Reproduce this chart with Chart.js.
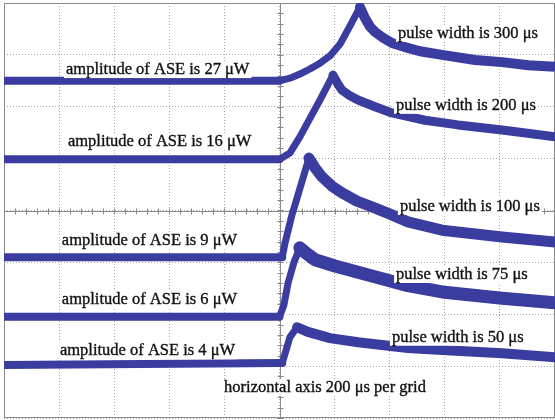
<!DOCTYPE html>
<html>
<head>
<meta charset="utf-8">
<script src="https://cdn.jsdelivr.net/npm/chart.js@4.4.1/dist/chart.umd.min.js"></script>
<style>
html, body { margin: 0; padding: 0; background: #fff; }
#wrap { width: 555px; height: 420px; }
</style>
</head>
<body>
<div id="wrap"><canvas id="scope"></canvas></div>
<script>
// horizontal: time in us (200 us per grid), vertical: screen divisions
var xMin = -1000, xMax = 1000, xStep = 200;
var yMin = -4, yMax = 4, yStep = 1;

// pulse width 300 us, ASE 27 uW
var t300 = [-1000, 0, 38, 74, 111, 147, 183, 220, 256, 292, 310, 329, 347, 376, 408, 455, 510, 590, 710, 808, 903, 1000];
var v300 = [2.50, 2.50, 2.55, 2.63, 2.73, 2.84, 2.98, 3.21, 3.56, 3.92, 3.71, 3.54, 3.44, 3.33, 3.23, 3.15, 3.07, 3.00, 2.90, 2.86, 2.80, 2.77];

// pulse width 200 us, ASE 16 uW
var t200 = [-1000, 0, 38, 74, 111, 147, 194, 212, 227, 256, 285, 347, 408, 528, 648, 808, 1000];
var v200 = [0.99, 0.99, 1.11, 1.42, 1.78, 2.13, 2.61, 2.44, 2.32, 2.21, 2.13, 2.00, 1.88, 1.74, 1.65, 1.55, 1.42];

// pulse width 100 us, ASE 9 uW
var t100 = [-1000, 10, 20, 45, 67, 107, 129, 154, 190, 227, 281, 336, 401, 466, 590, 808, 1000];
var v100 = [-0.90, -0.90, -0.63, -0.09, 0.30, 1.01, 0.82, 0.65, 0.47, 0.34, 0.18, 0.07, -0.07, -0.22, -0.38, -0.51, -0.61];

// pulse width 75 us, ASE 6 uW
var t75 = [-1000, 0, 16, 31, 53, 74, 96, 129, 201, 285, 383, 466, 590, 808, 1000];
var v75 = [-2.05, -2.05, -1.82, -1.40, -0.99, -0.72, -0.82, -0.95, -1.07, -1.19, -1.33, -1.45, -1.57, -1.69, -1.78];

// pulse width 50 us, ASE 4 uW
var t50 = [-1000, 10, 38, 64, 103, 183, 285, 466, 590, 808, 1000];
var v50 = [-2.98, -2.94, -2.44, -2.25, -2.34, -2.46, -2.54, -2.65, -2.69, -2.75, -2.83];

var traceColor = '#3a3d9f';
var decayWidths = [10, 9, 11, 13, 10];

var notes = [
    { text: 'amplitude of ASE is 27 \u03bcW', x: -775, y: 2.63 },
    { text: 'amplitude of ASE is 16 \u03bcW', x: -768, y: 1.24 },
    { text: 'amplitude of ASE is 9 \u03bcW', x: -790, y: -0.67 },
    { text: 'amplitude of ASE is 6 \u03bcW', x: -790, y: -1.80 },
    { text: 'amplitude of ASE is 4 \u03bcW', x: -797, y: -2.79 },
    { text: 'pulse width is 300 \u03bcs', x: 430, y: 3.33 },
    { text: 'pulse width is 200 \u03bcs', x: 423, y: 1.94 },
    { text: 'pulse width is 100 \u03bcs', x: 437, y: -0.01 },
    { text: 'pulse width is 75 \u03bcs', x: 423, y: -1.32 },
    { text: 'pulse width is 50 \u03bcs', x: 408, y: -2.53 },
    { text: 'horizontal axis 200 \u03bcs per grid', x: -201, y: -3.50 }
];

function makeTrace(ts, vs, decayWidth) {
    var pts = [];
    var peak = ts[0], best = -99;
    for (var i = 0; i < ts.length; i++) {
        pts.push({ x: ts[i], y: vs[i] });
        if (vs[i] > best) { best = vs[i]; peak = ts[i]; }
    }
    return {
        data: pts,
        borderColor: traceColor,
        borderWidth: 8,
        borderCapStyle: 'round',
        borderJoinStyle: 'round',
        pointRadius: 0,
        tension: 0,
        fill: false,
        segment: {
            borderWidth: function (ctx) {
                if (ctx.p0.parsed.x >= peak) return decayWidth;
                if (ctx.p0.parsed.x >= 0) return 7;
                return 8;
            }
        }
    };
}

var scopeFrame = {
    id: 'scopeFrame',
    beforeDatasetsDraw: function (chart) {
        var c = chart.ctx, a = chart.chartArea;
        var sx = chart.scales.x, sy = chart.scales.y;
        var cx = Math.round(sx.getPixelForValue(0)) + 0.5;
        var cy = Math.round(sy.getPixelForValue(0)) + 0.5;
        c.save();
        c.strokeStyle = '#8a8a8a';
        c.lineWidth = 1;
        c.strokeRect(a.left + 0.5, a.top + 0.5, a.right - a.left - 1, a.bottom - a.top - 1);
        c.beginPath();
        c.moveTo(cx, a.top); c.lineTo(cx, a.bottom);
        c.moveTo(a.left, cy); c.lineTo(a.right, cy);
        // minor ticks, 5 per division
        for (var v = xMin; v <= xMax; v += xStep / 5) {
            var px = Math.round(sx.getPixelForValue(v)) + 0.5;
            c.moveTo(px, cy - 3); c.lineTo(px, cy + 3);
        }
        for (var w = yMin; w <= yMax + 0.001; w += yStep / 5) {
            var py = Math.round(sy.getPixelForValue(w)) + 0.5;
            c.moveTo(cx - 3, py); c.lineTo(cx + 3, py);
        }
        c.stroke();
        c.restore();
    },
    afterDatasetsDraw: function (chart) {
        var c = chart.ctx;
        var sx = chart.scales.x, sy = chart.scales.y;
        c.save();
        c.font = '16.5px "Liberation Serif"';
        c.textBaseline = 'alphabetic';
        c.lineWidth = 0.35;
        notes.forEach(function (n) {
            var px = sx.getPixelForValue(n.x);
            var py = sy.getPixelForValue(n.y);
            var w = c.measureText(n.text).width;
            c.fillStyle = '#ffffff';
            c.fillRect(px - 2, py - 13, w + 4, 17);
            c.fillStyle = '#111111';
            c.strokeStyle = '#111111';
            c.fillText(n.text, px, py);
            c.strokeText(n.text, px, py);
        });
        c.restore();
    }
};

var axisGrid = {
    color: '#a8a8a8',
    lineWidth: 1,
    drawTicks: false
};

new Chart(document.getElementById('scope'), {
    type: 'line',
    data: {
        datasets: [
            makeTrace(t300, v300, decayWidths[0]),
            makeTrace(t200, v200, decayWidths[1]),
            makeTrace(t100, v100, decayWidths[2]),
            makeTrace(t75, v75, decayWidths[3]),
            makeTrace(t50, v50, decayWidths[4])
        ]
    },
    options: {
        responsive: true,
        maintainAspectRatio: false,
        animation: false,
        layout: { padding: { left: 4, top: 3, right: 0, bottom: 2 } },
        plugins: { legend: { display: false }, tooltip: { enabled: false } },
        scales: {
            x: {
                type: 'linear', min: xMin, max: xMax,
                ticks: { display: false, stepSize: xStep },
                grid: axisGrid,
                border: { display: false, dash: [1, 2] }
            },
            y: {
                type: 'linear', min: yMin, max: yMax,
                ticks: { display: false, stepSize: yStep },
                grid: axisGrid,
                border: { display: false, dash: [1, 2] }
            }
        }
    },
    plugins: [scopeFrame]
});
</script>
</body>
</html>
